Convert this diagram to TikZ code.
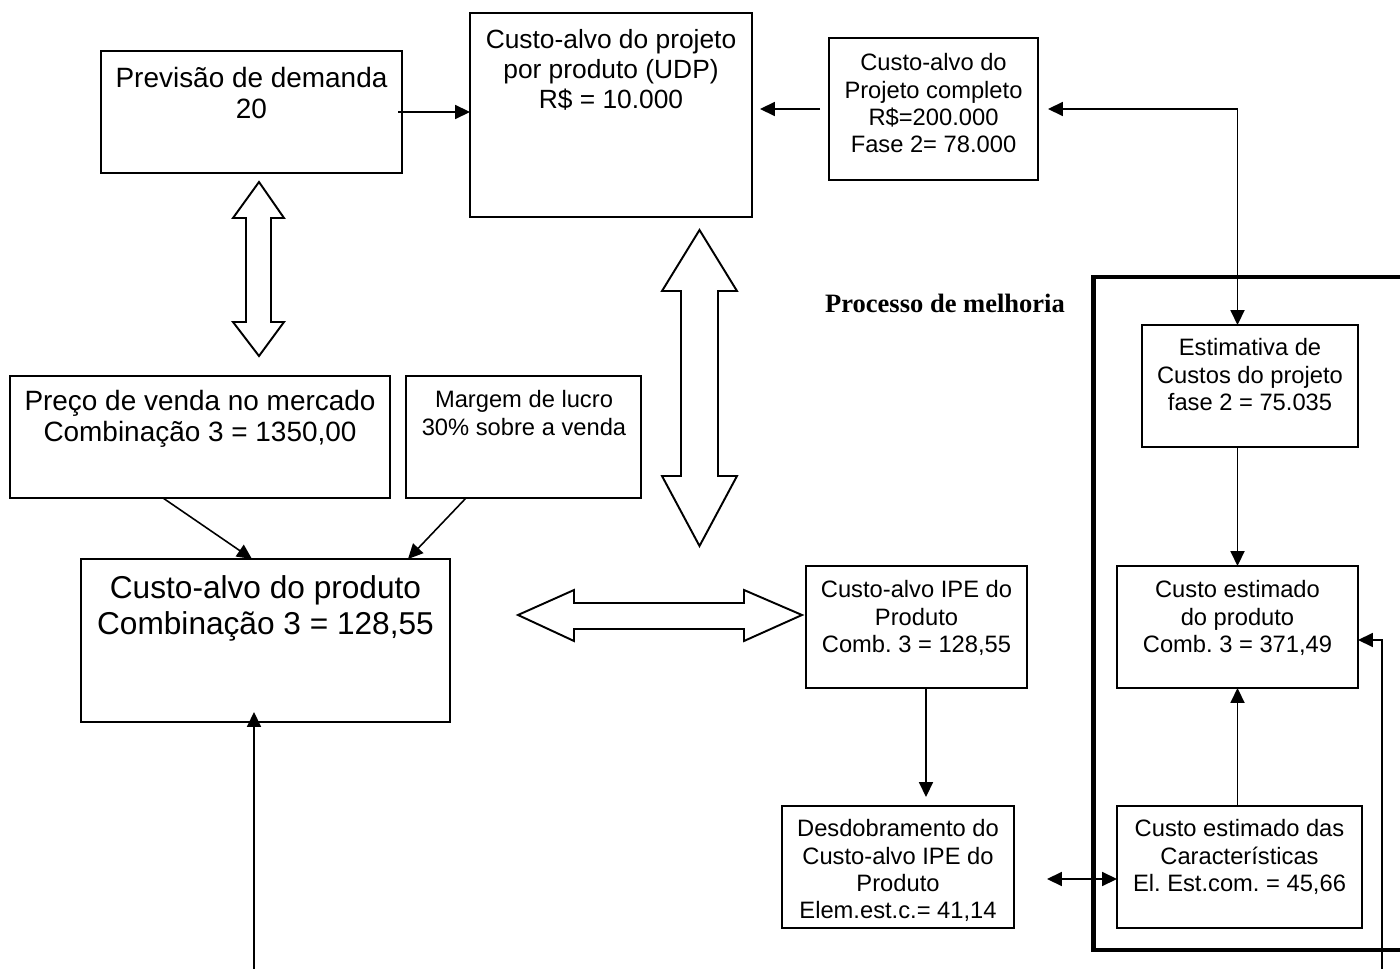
\documentclass[tikz,border=0pt]{standalone}
\usepackage{fontspec}
\setmainfont{Liberation Sans}
\newfontfamily\titleserif{Liberation Serif}
\usetikzlibrary{arrows.meta}
\frenchspacing

\tikzset{
  box/.style={draw, line width=1.1pt, inner sep=0pt, outer sep=0pt},
  txt/.style={anchor=north, align=center, inner sep=0pt},
  small/.style={txt, font=\fontsize{13.5pt}{15.6pt}\selectfont},
  medium/.style={txt, font=\fontsize{15.9pt}{17.8pt}\selectfont},
  mediumb/.style={txt, font=\fontsize{15.0pt}{17.1pt}\selectfont},
  large/.style={txt, font=\fontsize{18.0pt}{20.6pt}\selectfont},
  link/.style={line width=0.9pt, -{Triangle[length=8.5pt,width=8pt]}},
  link2/.style={line width=0.9pt, {Triangle[length=8.5pt,width=8pt]}-{Triangle[length=8.5pt,width=8pt]}},
  block/.style={draw, line width=1.1pt, fill=white, line join=miter},
}

\newcommand\drawbox[5]{\node[box, minimum width=#4*0.02cm, minimum height=#5*0.02cm] (#1) at (#2,#3) {};}

\begin{document}
\begin{tikzpicture}[x=0.02cm, y=-0.02cm]
\useasboundingbox (0,0) rectangle (1400,969);

% boxes
\drawbox{prev}{251.5}{112}{301}{122}
\drawbox{udp}{611}{115}{282}{204}
\drawbox{proj}{933.5}{109}{209}{142}
\drawbox{estim}{1250}{386}{216}{122}
\drawbox{cest}{1237.5}{627}{241}{122}
\drawbox{ipe}{916.5}{627}{221}{122}
\drawbox{desd}{898}{867}{232}{122}
\drawbox{carac}{1239.5}{867}{245}{122}
\drawbox{calvo}{265.5}{640.5}{369}{163}
\drawbox{preco}{200}{437}{380}{122}
\drawbox{marg}{523.5}{437}{235}{122}

% box texts
\node[medium] (tprev) at (251.5,66.7) {Previsão de demanda\\20};
\node[mediumb] (tudp) at (611,29) {Custo-alvo do projeto\\por produto (UDP)\\R\$ = 10.000};
\node[small] (tproj) at (933.5,53.2) {Custo-alvo do\\Projeto completo\\R\$=200.000\\Fase 2= 78.000};
\node[small] (testim) at (1250,338.2) {Estimativa de\\Custos do projeto\\fase 2 = 75.035};
\node[small] (tcest) at (1237.5,580.2) {Custo estimado\\do produto\\Comb. 3 = 371,49};
\node[small] (tipe) at (916.5,580.2) {Custo-alvo IPE do\\Produto\\Comb. 3 = 128,55};
\node[small] (tdesd) at (898,819.2) {Desdobramento do\\Custo-alvo IPE do\\Produto\\Elem.est.c.= 41,14};
\node[small] (tcarac) at (1239.5,819.2) {Custo estimado das\\Características\\El. Est.com. = 45,66};
\node[large] (tcalvo) at (265.5,575.3) {Custo-alvo do produto\\Combinação 3 = 128,55};
\node[medium] (tpreco) at (200,389.7) {Preço de venda no mercado\\Combinação 3 = 1350,00};
\node[small] (tmarg) at (524,390.2) {Margem de lucro\\30\% sobre a venda};

% improvement process frame and its title
\draw[line width=2.6pt] (1400,277) -- (1093.5,277) -- (1093.5,950) -- (1400,950);
\node[font=\titleserif\bfseries\fontsize{15.1pt}{18pt}\selectfont, inner sep=0pt] (tmelhoria) at (945,303) {Processo de melhoria};

% hollow double-headed block arrows
\draw[block] (259,182) -- (284,218) -- (271,218) -- (271,322) -- (284,322) -- (259,356)
  -- (233,322) -- (246,322) -- (246,218) -- (233,218) -- cycle;
\draw[block] (699.5,230) -- (737,291) -- (718,291) -- (718,476) -- (737,476) -- (699.5,546)
  -- (662,476) -- (681,476) -- (681,291) -- (662,291) -- cycle;
\draw[block] (518,615) -- (574,590) -- (574,603) -- (744,603) -- (744,590) -- (802,615)
  -- (744,641) -- (744,629) -- (574,629) -- (574,641) -- cycle;

% connectors
\draw[link] ([xshift=-0.08cm]prev.east) -- (prev.east -| udp.west);
\draw[link] ([xshift=-0.18cm]proj.west) -- ([xshift=0.16cm]proj.west -| udp.east);
\draw[link2] (estim.north -| cest.center) |- ([xshift=0.2cm]proj.east);
\draw[link] (estim.south -| cest.center) -- (cest.north);
\draw[link] (carac.north -| cest.center) -- (cest.south);
\draw[link] ([xshift=0.19cm]ipe.south) -- ([xshift=0.19cm,yshift=0.18cm]ipe.south |- desd.north);
\draw[link2] ([xshift=0.66cm,yshift=-0.24cm]desd.east) -- ([yshift=-0.24cm]carac.west);
\coordinate (rb) at (1382,969);
\draw[link] (rb) |- ([yshift=-0.26cm]cest.east);
\coordinate (lb) at (254,969);
\draw[link] (lb) -- ([yshift=0.2cm]calvo.south -| lb);
\draw[link] ([xshift=-0.74cm]preco.south) -- ([xshift=-0.27cm]calvo.north);
\draw[link] ([xshift=-1.15cm]marg.south) -- ([xshift=2.85cm]calvo.north);
\end{tikzpicture}
\end{document}
